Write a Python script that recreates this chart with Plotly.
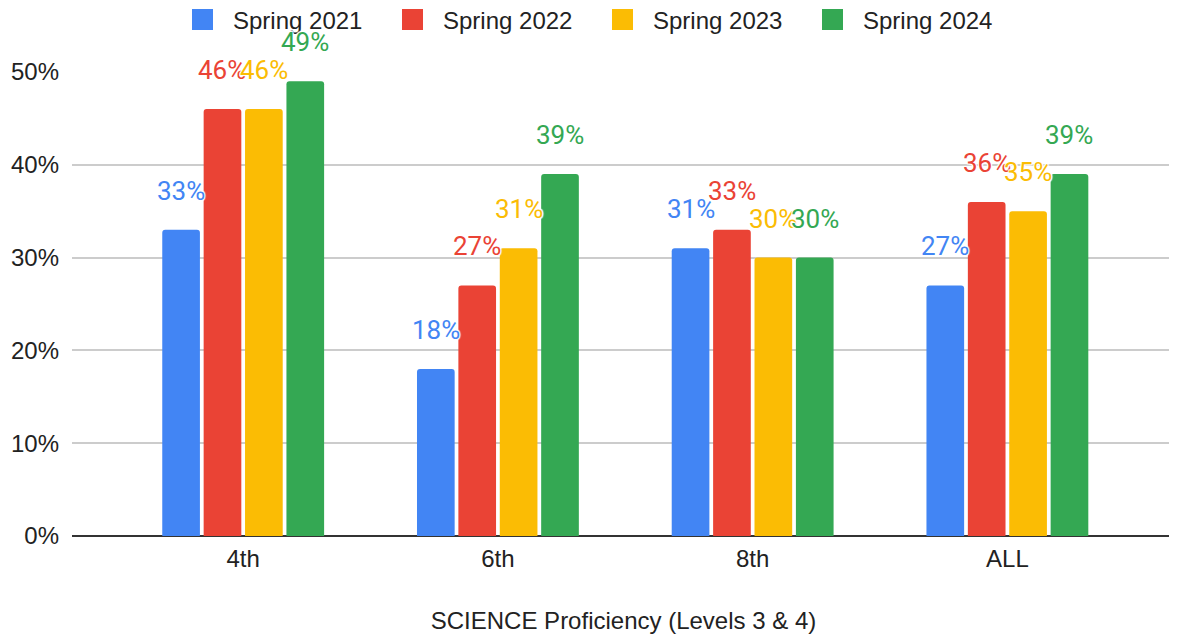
import plotly.graph_objects as go

categories = ["4th", "6th", "8th", "ALL"]
series_names = ["Spring 2021", "Spring 2022", "Spring 2023", "Spring 2024"]
spring_2021 = [0.33, 0.18, 0.31, 0.27]
spring_2022 = [0.46, 0.27, 0.33, 0.36]
spring_2023 = [0.46, 0.31, 0.30, 0.35]
spring_2024 = [0.49, 0.39, 0.30, 0.39]
colors = ["#4285F4", "#EA4335", "#FBBC04", "#34A853"]
y_ticks = [0, 0.1, 0.2, 0.3, 0.4, 0.5]
y_tick_labels = ["0%", "10%", "20%", "30%", "40%", "50%"]

all_series = [spring_2021, spring_2022, spring_2023, spring_2024]

BARGAP = 0.35
fig = go.Figure()
for name, vals, col in zip(series_names, all_series, colors):
    fig.add_trace(go.Bar(
        x=categories, y=vals, name=name,
        marker=dict(color=col, cornerradius=3, line=dict(width=0)),
        hoverinfo="skip", showlegend=False,
    ))
# legend entries with larger square swatches
for name, col in zip(series_names, colors):
    fig.add_trace(go.Scatter(
        x=[None], y=[None], mode="markers", name=name,
        marker=dict(symbol="square", size=22, color=col,
                    line=dict(width=5, color=col)),
        hoverinfo="skip",
    ))

halo = "1px 1px 1px #fff, -1px -1px 1px #fff, 1px -1px 1px #fff, -1px 1px 1px #fff, 0 0 2px #fff"
n = len(series_names)
slot = (1 - BARGAP) / n
for i, (vals, col) in enumerate(zip(all_series, colors)):
    for j, v in enumerate(vals):
        fig.add_annotation(
            x=j + (i - (n - 1) / 2) * slot, y=v, xref="x", yref="y",
            text=f"{round(v * 100)}%", showarrow=False,
            yshift=39, yanchor="middle", xanchor="center",
            font=dict(family="Roboto, Arial", size=26, color=col, shadow=halo),
        )

fig.update_layout(
    width=1177, height=638,
    paper_bgcolor="white", plot_bgcolor="white",
    margin=dict(l=64, r=10, t=64, b=110, autoexpand=False),
    barmode="group", bargap=BARGAP, bargroupgap=0.09,
    font=dict(family="Arial, Liberation Sans", size=24, color="#444"),
    legend=dict(
        orientation="h", xref="container", x=164 / 1177, xanchor="left",
        yref="container", y=1 - 12 / 638, yanchor="middle",
        font=dict(size=24, color="#222"), itemsizing="trace", itemwidth=51,
        entrywidth=144, entrywidthmode="pixels",
        bgcolor="rgba(0,0,0,0)",
    ),
    showlegend=True,
)
fig.update_xaxes(
    type="category", range=[-0.672, 3.658], automargin=False,
    showgrid=False, showline=False, zeroline=False,
    ticks="", tickfont=dict(size=24, color="#222"), ticklabelstandoff=6,
    title=dict(text="SCIENCE Proficiency (Levels 3 & 4)", standoff=41,
               font=dict(size=24, color="#222")),
)
fig.update_yaxes(
    range=[0, 0.5], tickvals=y_ticks, ticktext=y_tick_labels, automargin=False,
    showgrid=True, gridcolor="#cccccc", gridwidth=1.5,
    zeroline=True, zerolinecolor="#333333", zerolinewidth=2,
    showline=False, ticks="", ticklabelstandoff=12,
    tickfont=dict(size=24, color="#222"),
)
fig.write_html("out.html")
